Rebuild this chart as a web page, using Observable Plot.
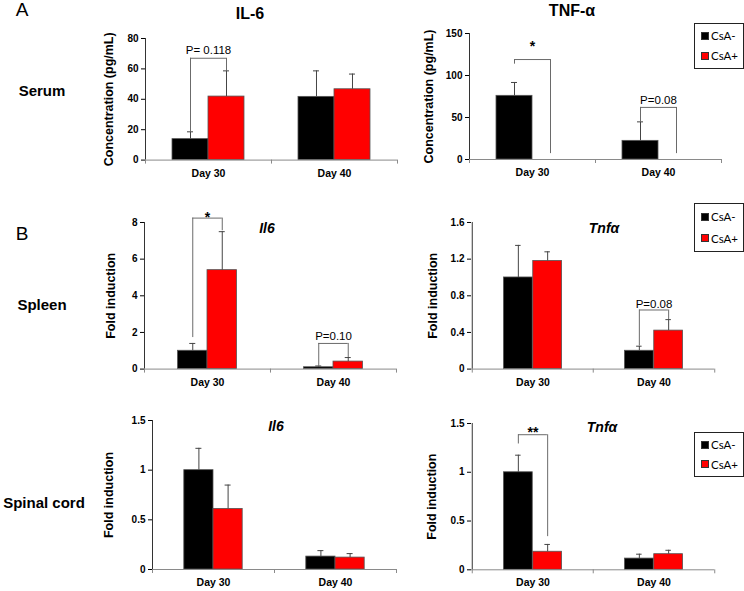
<!DOCTYPE html>
<html><head><meta charset="utf-8">
<script src="https://cdn.jsdelivr.net/npm/d3@7"></script>
<script src="https://cdn.jsdelivr.net/npm/@observablehq/plot@0.6"></script>
<style>
html,body{margin:0;padding:0;background:#fff;}
#fig{position:relative;width:744px;height:591px;overflow:hidden;font-family:"Liberation Sans",Arial,sans-serif;color:#000;}
.lbl{position:absolute;white-space:nowrap;line-height:1;transform:translate(-50%,-50%);}
.panel{position:absolute;}
.panel g[aria-label="y-axis label"], .panel g[aria-label="y-axis label"] text{font-size:12.5px;}
.panel g[aria-label="x-axis tick label"], .panel g[aria-label="x-axis tick label"] text{font-size:10.5px;}
.legend{position:absolute;box-sizing:border-box;border:1px solid #222;background:#fff;font-family:Lato,"Open Sans",sans-serif;font-size:11.5px;display:flex;flex-direction:column;justify-content:space-around;padding:2px 0 2px 6px;}
.legend .row{display:flex;align-items:center;gap:2px;line-height:1;}
.legend .sw{width:8px;height:8px;box-sizing:border-box;border:1px solid #333;}
</style></head><body><div id="fig"></div>
<script>
// ---- data ----
const days = ["Day 30", "Day 40"];
const groups = ["CsA-", "CsA+"];
const groupColors = ["#000000", "#ff0000"];

// order of values: [Day 30 CsA-, Day 30 CsA+, Day 40 CsA-, Day 40 CsA+]
const il6SerumMean = [13.8, 41.8, 41.6, 46.6];
const il6SerumErr  = [4.8, 16.9, 17.1, 10.0];
const tnfSerumMean = [75.8, 0, 22.2, 0];
const tnfSerumErr  = [15.9, 0, 22.6, 0];
const il6SpleenMean = [1.0, 5.4, 0.1, 0.41];
const il6SpleenErr  = [0.4, 2.1, 0.07, 0.22];
const tnfSpleenMean = [1.0, 1.18, 0.2, 0.42];
const tnfSpleenErr  = [0.35, 0.1, 0.05, 0.12];
const il6CordMean = [1.0, 0.61, 0.13, 0.12];
const il6CordErr  = [0.22, 0.24, 0.06, 0.04];
const tnfCordMean = [1.0, 0.185, 0.115, 0.16];
const tnfCordErr  = [0.175, 0.075, 0.045, 0.04];

// significance brackets (values in data units)
const il6SerumSig = [{day: "Day 30", left: 18.6, right: 58.7, top: 67, labelY: 69.9, label: "P= 0.118"}];
const tnfSerumSig = [
  {day: "Day 30", left: 113.5, right: 7, top: 119, labelY: 129, label: "*"},
  {day: "Day 40", left: 44.8, right: 7, top: 62, labelY: 65.8, label: "P=0.08"}
];
const il6SpleenSig = [
  {day: "Day 30", left: 1.72, right: 7.55, top: 8.24, labelY: 8.05, label: "*"},
  {day: "Day 40", left: 0.18, right: 0.63, top: 1.4, labelY: 1.6, label: "P=0.10"}
];
const tnfSpleenSig = [{day: "Day 40", left: 0.255, right: 0.54, top: 0.645, labelY: 0.672, label: "P=0.08"}];
const il6CordSig = [];
const tnfCordSig = [{day: "Day 30", left: 1.29, right: 0.34, top: 1.385, labelY: 1.357, label: "**"}];

// y tick values
const il6SerumTicks = [0, 20, 40, 60, 80];
const tnfSerumTicks = [0, 50, 100, 150];
const il6SpleenTicks = [0, 2, 4, 6, 8];
const tnfSpleenTicks = [0, 0.4, 0.8, 1.2, 1.6];
const il6CordTicks = [0, 0.5, 1, 1.5];
const tnfCordTicks = [0, 0.5, 1, 1.5];

const concLabel = "Concentration (pg/mL)";
const foldLabel = "Fold induction";

// ---- layout ----
const fig = document.getElementById("fig");

function panel(c) {
  const mL = 70, mR = 8, mT = 30, mB = 30;
  const width = c.PR - c.PL + mL + mR;
  const height = c.PB - c.PT + mT + mB;
  const B = (c.PR - c.PL) / 2;
  const W = c.barW;
  const rows = [];
  days.forEach((day, di) => groups.forEach((group, gi) =>
    rows.push({day, group, gi, mean: c.mean[di * 2 + gi], err: c.err[di * 2 + gi]})));
  const g0 = rows.filter(d => d.gi === 0), g1 = rows.filter(d => d.gi === 1);
  const isStar = s => /^\*+$/.test(s.label);
  const errStroke = "#444", brStroke = "#6a6a6a";
  const plot = Plot.plot({
    width, height, marginLeft: mL, marginRight: mR, marginTop: mT, marginBottom: mB,
    x: {type: "band", domain: days, padding: 0},
    y: {domain: [0, c.ticks[c.ticks.length - 1]]},
    color: {domain: groups, range: groupColors},
    style: {background: "transparent", fontFamily: "'Liberation Sans', Arial, sans-serif", fontWeight: "bold", fontSize: "10px", overflow: "visible", maxWidth: "none"},
    marks: [
      Plot.barY(g0.filter(d => d.mean > 0), {x: "day", y: "mean", fill: "group", stroke: "#555", strokeWidth: 0.8, insetLeft: B / 2 - W, insetRight: B / 2}),
      Plot.barY(g1.filter(d => d.mean > 0), {x: "day", y: "mean", fill: "group", stroke: "#555", strokeWidth: 0.8, insetLeft: B / 2, insetRight: B / 2 - W}),
      Plot.ruleX(g0.filter(d => d.err > 0), {x: "day", y1: "mean", y2: d => d.mean + d.err, dx: -W / 2, stroke: errStroke}),
      Plot.ruleX(g1.filter(d => d.err > 0), {x: "day", y1: "mean", y2: d => d.mean + d.err, dx: W / 2, stroke: errStroke}),
      Plot.tickY(g0.filter(d => d.err > 0), {x: "day", y: d => d.mean + d.err, dx: -W / 2, insetLeft: B / 2 - 3, insetRight: B / 2 - 3, stroke: errStroke}),
      Plot.tickY(g1.filter(d => d.err > 0), {x: "day", y: d => d.mean + d.err, dx: W / 2, insetLeft: B / 2 - 3, insetRight: B / 2 - 3, stroke: errStroke}),
      // significance brackets
      Plot.ruleX(c.sig, {x: "day", y1: "left", y2: "top", dx: -W / 2, stroke: brStroke}),
      Plot.ruleX(c.sig, {x: "day", y1: "right", y2: "top", dx: W / 2, stroke: brStroke}),
      Plot.tickY(c.sig, {x: "day", y: "top", insetLeft: B / 2 - W / 2, insetRight: B / 2 - W / 2, stroke: brStroke}),
      Plot.text(c.sig.filter(s => !isStar(s)), {x: "day", y: "labelY", text: "label", lineAnchor: "bottom", fontSize: 11.5, fontWeight: "normal"}),
      Plot.text(c.sig.filter(isStar), {x: "day", y: "labelY", text: "label", lineAnchor: "bottom", fontSize: 14, fontWeight: "bold"}),
      // axis lines and category boundary ticks
      Plot.ruleY([0], {stroke: "#8a8a8a"}),
      Plot.ruleX(days.slice(0, 1), {x: d => d, dx: -B / 2, stroke: "#333"}),
      Plot.ruleX(days, {x: d => d, dx: -B / 2, insetTop: c.PB - c.PT, insetBottom: -4, stroke: "#8a8a8a"}),
      Plot.ruleX(days.slice(-1), {x: d => d, dx: B / 2, insetTop: c.PB - c.PT, insetBottom: -4, stroke: "#8a8a8a"}),
      Plot.axisY({ticks: c.ticks, tickFormat: d => String(d), tickSize: 4, tickPadding: 3, label: c.ylabel, labelAnchor: "center", labelArrow: "none", labelOffset: c.lo}),
      Plot.axisX({tickSize: 0, tickPadding: 9, label: null})
    ]
  });
  plot.classList.add("panel");
  plot.style.left = (c.PL - mL) + "px";
  plot.style.top = (c.PT - mT) + "px";
  fig.appendChild(plot);
}

panel({mean: il6SerumMean, err: il6SerumErr, sig: il6SerumSig, ticks: il6SerumTicks, ylabel: concLabel, PL: 145, PR: 397, PT: 37.7, PB: 159.3, barW: 36, lo: 41});
panel({mean: tnfSerumMean, err: tnfSerumErr, sig: tnfSerumSig, ticks: tnfSerumTicks, ylabel: concLabel, PL: 469, PR: 721, PT: 33.3, PB: 159.3, barW: 36, lo: 45});
panel({mean: il6SpleenMean, err: il6SpleenErr, sig: il6SpleenSig, ticks: il6SpleenTicks, ylabel: foldLabel, PL: 144, PR: 396, PT: 221.7, PB: 368.3, barW: 29.5, lo: 38});
panel({mean: tnfSpleenMean, err: tnfSpleenErr, sig: tnfSpleenSig, ticks: tnfSpleenTicks, ylabel: foldLabel, PL: 471, PR: 714, PT: 221.7, PB: 368.3, barW: 29.3, lo: 43});
panel({mean: il6CordMean, err: il6CordErr, sig: il6CordSig, ticks: il6CordTicks, ylabel: foldLabel, PL: 152, PR: 396, PT: 420, PB: 569, barW: 29.2, lo: 48});
panel({mean: tnfCordMean, err: tnfCordErr, sig: tnfCordSig, ticks: tnfCordTicks, ylabel: foldLabel, PL: 471, PR: 714, PT: 422.7, PB: 569, barW: 29.3, lo: 44});

function addText(txt, x, y, css) {
  const d = document.createElement("div");
  d.className = "lbl";
  d.textContent = txt;
  d.style.left = x + "px";
  d.style.top = y + "px";
  Object.assign(d.style, css);
  fig.appendChild(d);
}
const bold = (s) => ({fontWeight: "bold", fontSize: s + "px"});
addText("A", 22, 9, {fontSize: "19px"});
addText("B", 22, 233, {fontSize: "19px"});
addText("Serum", 42, 90, bold(15));
addText("Spleen", 42, 304, bold(15));
addText("Spinal cord", 44, 502, bold(15));
addText("IL-6", 250, 14, bold(16));
addText("TNF-\u03b1", 572, 11, bold(16));
addText("Il6", 267, 228, {...bold(14), fontStyle: "italic"});
addText("Tnf\u03b1", 604, 228, {...bold(14), fontStyle: "italic"});
addText("Il6", 276, 426, {...bold(14), fontStyle: "italic"});
addText("Tnf\u03b1", 602, 427, {...bold(14), fontStyle: "italic"});

function legend(left, top, w, h) {
  const L = document.createElement("div");
  L.className = "legend";
  Object.assign(L.style, {left: left + "px", top: top + "px", width: w + "px", height: h + "px"});
  groups.forEach((g, i) => {
    const r = document.createElement("div");
    r.className = "row";
    const sw = document.createElement("span");
    sw.className = "sw";
    sw.style.background = groupColors[i];
    const t = document.createElement("span");
    t.textContent = g;
    r.appendChild(sw); r.appendChild(t);
    L.appendChild(r);
  });
  fig.appendChild(L);
}
legend(694, 23, 50, 46);
legend(694, 203, 50, 49);
legend(694, 432, 50, 45);
</script></body></html>
